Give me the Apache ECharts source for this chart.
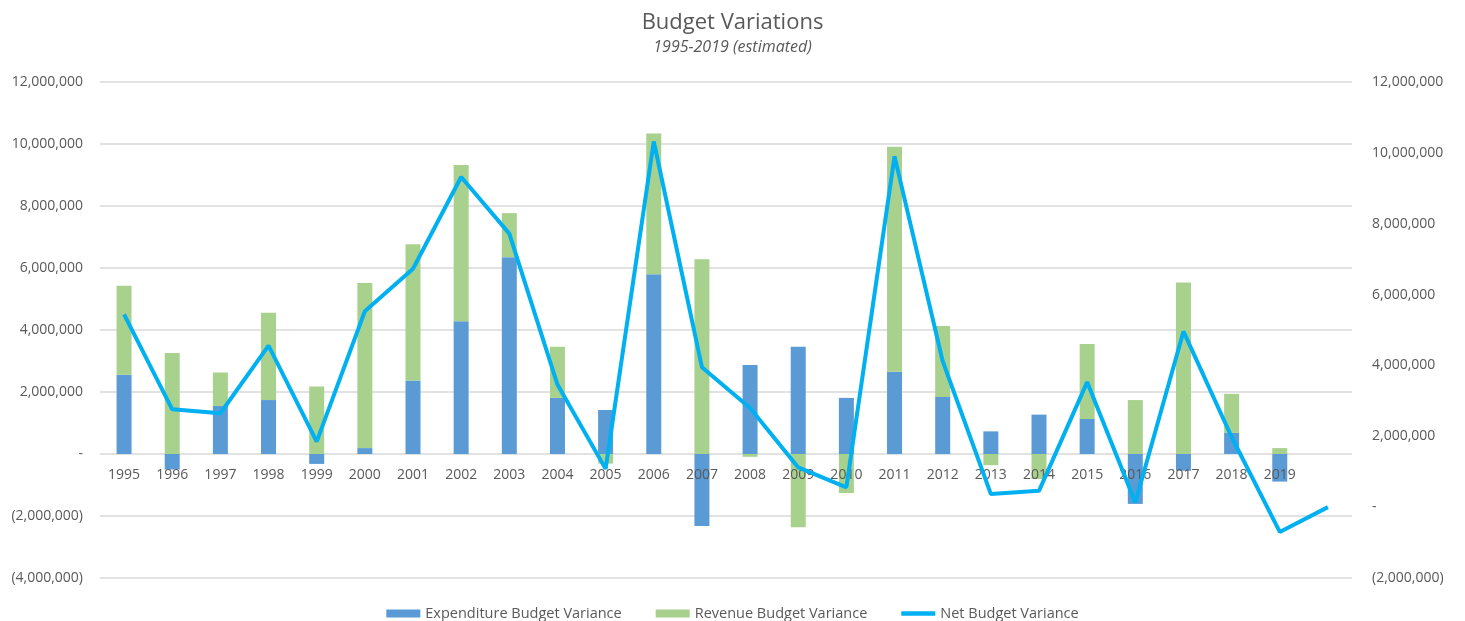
<!DOCTYPE html>
<html>
<head>
<meta charset="utf-8">
<title>Budget Variations</title>
<script src="https://cdn.jsdelivr.net/npm/echarts@6/dist/echarts.min.js"></script>
<style>
  html, body { margin: 0; padding: 0; background: #fff; }
  #chart { width: 1465px; height: 621px; }
</style>
</head>
<body>
<div id="chart"></div>
<script>
// years on the axis (last slot is blank, the net line runs into it)
var years = ['1995', '1996', '1997', '1998', '1999', '2000', '2001', '2002', '2003', '2004',
    '2005', '2006', '2007', '2008', '2009', '2010', '2011', '2012', '2013', '2014',
    '2015', '2016', '2017', '2018', '2019', ''];

var expenditure = [2560000, -500000, 1550000, 1740000, -320000, 190000, 2370000, 4280000, 6350000, 1810000,
    1420000, 5800000, -2320000, 2870000, 3460000, 1810000, 2650000, 1840000, 730000, 1270000,
    1130000, -1610000, -540000, 680000, -890000];

var revenue = [2870000, 3260000, 1080000, 2820000, 2180000, 5330000, 4400000, 5040000, 1420000, 1650000,
    -310000, 4540000, 6280000, -90000, -2360000, -1260000, 7260000, 2290000, -360000, -810000,
    2420000, 1740000, 5530000, 1260000, 190000];

var net = [5440000, 2760000, 2650000, 4560000, 1850000, 5530000, 6730000, 9320000, 7720000, 3460000,
    1080000, 10320000, 3950000, 2800000, 1120000, 560000, 9900000, 4120000, 370000, 460000,
    3530000, 130000, 4960000, 1980000, -700000, 0];

var labelColor = '#595959';
var fontName = 'Open Sans';

// grid box, the year labels sit on the zero line of the left axis
var gridTop = 82, gridBottom = 43, chartHeight = 621;
var leftMin = -4000000, leftMax = 12000000;
var plotH = chartHeight - gridTop - gridBottom;
var zeroOffset = -plotH * (0 - leftMin) / (leftMax - leftMin);

function fmt(v) {
    if (v === 0) return '-';
    var s = Math.abs(v).toString().replace(/\B(?=(\d{3})+(?!\d))/g, ',');
    return v < 0 ? '(' + s + ')' : s;
}

var myChart = echarts.init(document.getElementById('chart'));

var option = {
    animation: false,
    title: {
        text: 'Budget Variations',
        subtext: '1995-2019 (estimated)',
        left: 'center',
        top: 7,
        itemGap: 5,
        textStyle: {
            fontFamily: fontName,
            fontSize: 22,
            fontWeight: 'normal',
            color: labelColor
        },
        subtextStyle: {
            fontFamily: fontName,
            fontSize: 16,
            fontStyle: 'italic',
            color: labelColor
        }
    },
    legend: {
        bottom: -5,
        left: 'center',
        itemGap: 34,
        itemWidth: 34,
        itemHeight: 8,
        textStyle: { fontFamily: fontName, fontSize: 14.5, color: labelColor },
        data: [
            { name: 'Expenditure Budget Variance', icon: 'rect' },
            { name: 'Revenue Budget Variance', icon: 'rect' },
            { name: 'Net Budget Variance', icon: 'path://M0,0 L34,0 L34,4.5 L0,4.5 Z' }
        ]
    },
    grid: {
        left: 100,
        right: 113,
        top: gridTop,
        bottom: gridBottom,
        containLabel: false
    },
    xAxis: {
        type: 'category',
        data: years,
        position: 'bottom',
        offset: zeroOffset,
        z: 3,
        axisLine: { show: false, onZero: false },
        axisTick: { show: false },
        axisLabel: {
            margin: 14,
            fontFamily: fontName,
            fontSize: 14,
            color: labelColor,
            interval: 0
        }
    },
    yAxis: [
        {
            type: 'value',
            min: leftMin,
            max: leftMax,
            interval: 2000000,
            axisLine: { show: false },
            axisTick: { show: false },
            splitLine: { lineStyle: { color: '#d9d9d9', width: 1.5 } },
            axisLabel: {
                margin: 17,
                formatter: fmt,
                fontFamily: fontName,
                fontSize: 14,
                color: labelColor
            }
        },
        {
            type: 'value',
            min: -2000000,
            max: 12000000,
            interval: 2000000,
            position: 'right',
            axisLine: { show: false },
            axisTick: { show: false },
            splitLine: { show: false },
            axisLabel: {
                margin: 20,
                formatter: fmt,
                fontFamily: fontName,
                fontSize: 14,
                color: labelColor
            }
        }
    ],
    series: [
        {
            name: 'Expenditure Budget Variance',
            type: 'bar',
            stack: 'budget',
            barWidth: 15,
            yAxisIndex: 0,
            itemStyle: { color: '#5b9bd5' },
            data: expenditure
        },
        {
            name: 'Revenue Budget Variance',
            type: 'bar',
            stack: 'budget',
            barWidth: 15,
            yAxisIndex: 0,
            itemStyle: { color: '#a9d18e' },
            data: revenue
        },
        {
            name: 'Net Budget Variance',
            type: 'line',
            yAxisIndex: 1,
            symbol: 'none',
            z: 5,
            lineStyle: { color: '#00b0f0', width: 4 },
            itemStyle: { color: '#00b0f0' },
            data: net
        }
    ]
};

myChart.setOption(option);
</script>
</body>
</html>
